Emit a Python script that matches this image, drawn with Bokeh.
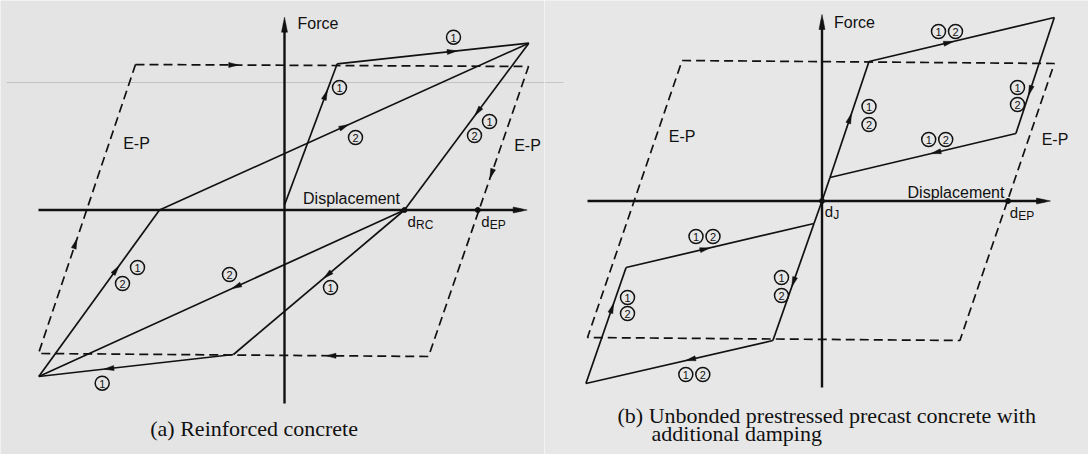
import numpy as np
from bokeh.plotting import figure
from bokeh.layouts import row
from bokeh.models import Range1d
from bokeh.core.properties import value
from bokeh.embed import file_html
from bokeh.resources import INLINE

INK = "#111111"
SANS = "Liberation Sans"
SERIF = "Liberation Serif"

# ---------------- (a) Reinforced concrete ----------------
# elasto-plastic (E-P) envelope, corners TL, TR, BR, BL (displacement, force)
ep_a_disp = [-149.0, 244.0, 144.0, -246.0]
ep_a_force = [145.5, 143.5, -146.5, -143.5]
ep_a_arrow_t = [0.25, 0.37, 0.25, 0.38]

# reinforced-concrete hysteresis vertices
rc_disp = [0.0, 52.7, 244.3, 120.0, -51.0, -245.7, -125.0]
rc_force = [5.0, 146.2, 166.8, 0.0, -144.5, -166.5, 0.0]
rc_segments = [(0, 1), (1, 2), (2, 3), (3, 4), (4, 5), (5, 6), (6, 2), (3, 5)]
rc_arrow_t = [0.78, 0.60, 0.41, 0.45, 0.64, 0.64, 0.50, 0.46]
d_rc = 120.0
d_ep_a = 193.3

# cycle tags: (displacement, force, cycle)
tags_a = [(169, 172.8, "1"), (55, 122.5, "1"), (71, 72.5, "2"),
          (205, 88.5, "1"), (190, 74.5, "2"), (-147, -57.5, "1"),
          (-162, -73.5, "2"), (-55, -64.5, "2"), (46, -77.5, "1"),
          (-182.3, -173.2, "1")]

# ---------------- (b) Unbonded prestressed precast ----------------
ep_b_disp = [-139.9, 232.3, 137.9, -234.5]
ep_b_force = [140.5, 137.5, -139.5, -136.5]

pt_disp = [0.0, 8.0, 47.0, 232.3, 193.9, -8.0, -49.1, -236.1, -195.9]
pt_force = [0.0, 23.5, 139.5, 183.5, 67.5, -22.5, -139.5, -182.5, -66.5]
pt_segments = [(5, 0), (0, 1), (1, 2), (2, 3), (3, 4), (4, 1),
               (5, 6), (6, 7), (7, 8), (8, 5)]
pt_arrow_t = [None, None, 0.51, 0.43, 0.63, 0.43, 0.50, 0.44, 0.65, 0.42]
d_ep_b = 186.0

tags_b = [(116.5, 169.5, "1"), (133.5, 169.5, "2"),
          (47, 94.5, "1"), (47, 76.5, "2"),
          (195.5, 113.5, "1"), (195.5, 96.5, "2"),
          (106.7, 61.5, "1"), (123.7, 61.5, "2"),
          (-126, -35.5, "1"), (-109, -35.5, "2"),
          (-40.5, -76.5, "1"), (-40.5, -94.5, "2"),
          (-194.5, -96.5, "1"), (-194.5, -112.5, "2"),
          (-136.2, -173.5, "1"), (-119.2, -173.5, "2")]


def head(x0, y0, x1, y1, t, length=10.0, width=5.0, at_end=False):
    d = np.array([x1 - x0, y1 - y0], float)
    u = d / np.hypot(*d)
    n = np.array([-u[1], u[0]])
    if at_end:
        tip = np.array([x1, y1], float)
    else:
        tip = np.array([x0, y0], float) + t * d + 0.5 * length * u
    base = tip - length * u
    pts = [tip, base + 0.5 * width * n, base - 0.5 * width * n]
    return [float(p[0]) for p in pts], [float(p[1]) for p in pts]


def make_panel(x0, x1, y0, y1, bg):
    p = figure(width=544, height=454, x_range=Range1d(x0, x1), y_range=Range1d(y0, y1),
               output_backend="svg", toolbar_location=None, min_border=0,
               background_fill_color=bg, border_fill_color=bg, outline_line_color=None)
    p.axis.visible = False
    p.grid.visible = False
    return p


def draw_axes(p, xl, xr, yb, yt, force_xy, disp_xy):
    p.line([xl, xr - 6], [0, 0], line_color=INK, line_width=2.4)
    p.line([0, 0], [yb, yt - 6], line_color=INK, line_width=2.4)
    hx, hy = head(xl, 0, xr, 0, 1, length=14, width=6, at_end=True)
    vx, vy = head(0, yb, 0, yt, 1, length=15, width=6, at_end=True)
    p.patches([hx, vx], [hy, vy], fill_color=INK, line_color=INK, line_width=0.5)
    p.text([force_xy[0]], [force_xy[1]], text=["Force"], text_font=value(SANS),
           text_font_size="16px", text_align="left", text_baseline="middle", text_color=INK)
    p.text([disp_xy[0]], [disp_xy[1]], text=["Displacement"], text_font=value(SANS),
           text_font_size="16px", text_align="center", text_baseline="middle", text_color=INK)


def draw_envelope(p, xs, ys, arrow_t=None):
    p.line(xs + xs[:1], ys + ys[:1], line_color=INK, line_width=1.7, line_dash="9 5")
    if arrow_t:
        hxs, hys = [], []
        for i, t in enumerate(arrow_t):
            j = (i + 1) % len(xs)
            hx, hy = head(xs[i], ys[i], xs[j], ys[j], t)
            hxs.append(hx)
            hys.append(hy)
        p.patches(hxs, hys, fill_color=INK, line_color=INK, line_width=0.5)


def draw_loop(p, xs, ys, segments, arrow_t):
    p.multi_line([[xs[a], xs[b]] for a, b in segments],
                 [[ys[a], ys[b]] for a, b in segments],
                 line_color=INK, line_width=1.7)
    hxs, hys = [], []
    for (a, b), t in zip(segments, arrow_t):
        if t is None:
            continue
        hx, hy = head(xs[a], ys[a], xs[b], ys[b], t)
        hxs.append(hx)
        hys.append(hy)
    p.patches(hxs, hys, fill_color=INK, line_color=INK, line_width=0.5)


def draw_tags(p, tags):
    tx = [t[0] for t in tags]
    ty = [t[1] for t in tags]
    p.scatter(tx, ty, marker="circle", size=14, fill_color=None,
              line_color=INK, line_width=1.5)
    p.text(tx, [y - 0.3 for y in ty], text=[t[2] for t in tags], text_font=value(SANS),
           text_font_size="11px", text_align="center", text_baseline="middle",
           text_color=INK)


def draw_d_label(p, x, y, sub):
    p.text([x], [y], text=["d"], text_font=value(SANS), text_font_size="15px",
           text_align="left", text_baseline="middle", text_color=INK)
    p.text([x + 8.5], [y - 3.5], text=[sub], text_font=value(SANS), text_font_size="12px",
           text_align="left", text_baseline="middle", text_color=INK)


def label(p, x, y, s, size="16px", font=SANS, align="center"):
    p.text([x], [y], text=[s], text_font=value(font), text_font_size=size,
           text_align=align, text_baseline="middle", text_color=INK)


# ----- panel (a)
pa = make_panel(-284, 260, -244.5, 209.5, "#e4e4e4")
pa.line([-278, 260], [127.5, 127.5], line_color="#c2c2c2", line_width=1)
draw_axes(pa, -246, 242.7, -193.5, 192.8, (13, 186.8), (67, 11.2))
draw_envelope(pa, ep_a_disp, ep_a_force, ep_a_arrow_t)
draw_loop(pa, rc_disp, rc_force, rc_segments, rc_arrow_t)
pa.scatter([d_rc, d_ep_a], [0, 0], marker="circle", size=5, fill_color=INK, line_color=INK)
draw_tags(pa, tags_a)
label(pa, -148, 66.5, "E-P")
label(pa, 243, 64.5, "E-P")
draw_d_label(pa, d_rc + 3, -11.5, "RC")
draw_d_label(pa, d_ep_a + 3.4, -11.5, "EP")
label(pa, -30.4, -218.5, "(a) Reinforced concrete", size="22px", font=SERIF)

# ----- panel (b)
pb = make_panel(-277.5, 266.5, -253.5, 200.5, "#e7e7e7")
pb.line([-277.5, -258.5], [118.5, 118.5], line_color="#c6c6c6", line_width=1)
draw_axes(pb, -234.5, 228.5, -186.5, 186.5, (12.1, 178.8), (134, 8.8))
draw_envelope(pb, ep_b_disp, ep_b_force)
draw_loop(pb, pt_disp, pt_force, pt_segments, pt_arrow_t)
pb.scatter([0, d_ep_b], [0, 0], marker="circle", size=5, fill_color=INK, line_color=INK)
draw_tags(pb, tags_b)
label(pb, -139.9, 64.5, "E-P")
label(pb, 233, 61.5, "E-P")
draw_d_label(pb, 2.8, -10.2, "J")
draw_d_label(pb, d_ep_b + 1.8, -11.2, "EP")
label(pb, -204.5, -214.5, "(b) Unbonded prestressed precast concrete with",
      size="22px", font=SERIF, align="left")
label(pb, -170.5, -232.5, "additional damping", size="22px", font=SERIF, align="left")

layout = row(pa, pb)
open("out.html", "w").write(file_html(layout, INLINE))
